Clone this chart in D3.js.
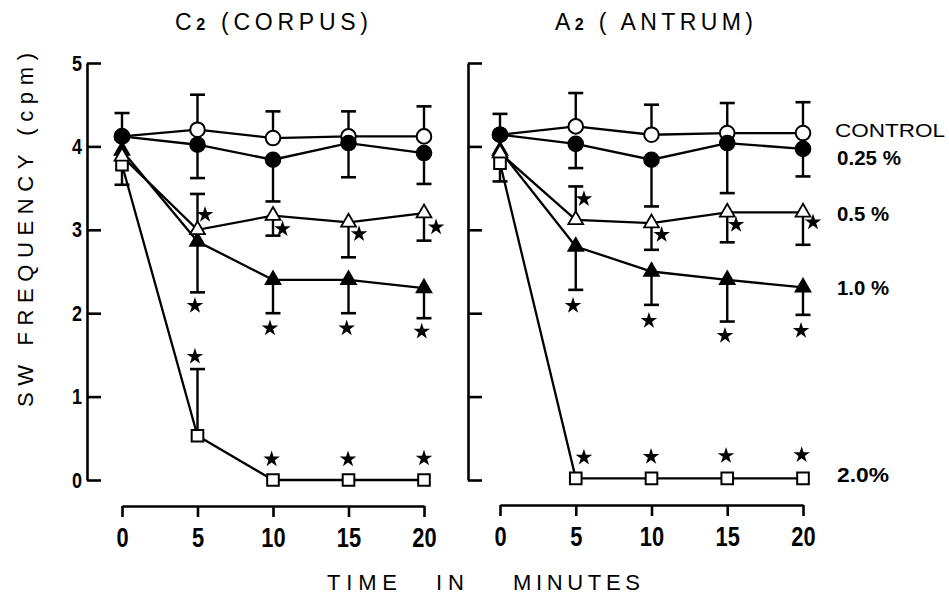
<!DOCTYPE html>
<html><head><meta charset="utf-8">
<script src="https://cdn.jsdelivr.net/npm/d3@7"></script>
<style>
html,body{margin:0;padding:0;background:#fff;}
svg{display:block;}
.num{font-family:"Liberation Sans","DejaVu Sans",Arial,sans-serif;font-weight:bold;}
.lab{font-family:"Liberation Sans","DejaVu Sans",Arial,sans-serif;}
</style></head>
<body>
<svg id="chart" width="949" height="599"></svg>
<script>
// ---------- data ----------
const times = [0, 5, 10, 15, 20];
const yTicks = [0, 1, 2, 3, 4, 5];
const seriesNames = ["CONTROL", "0.25 %", "0.5 %", "1.0 %", "2.0%"];

// C2 (CORPUS): means and error-bar end values
const corpusControl    = [4.12, 4.20, 4.10, 4.12, 4.12];
const corpusControlErr = [4.40, 4.62, 4.42, 4.42, 4.48];
const corpus025        = [4.12, 4.02, 3.84, 4.04, 3.92];
const corpus025Err     = [null, 3.62, 3.34, 3.63, 3.55];
const corpus05         = [3.88, 3.00, 3.17, 3.09, 3.20];
const corpus05Err      = [null, 3.43, 2.93, 2.67, 2.87];
const corpus10         = [3.95, 2.86, 2.40, 2.40, 2.30];
const corpus10Err      = [null, 2.25, 2.00, 2.00, 1.94];
const corpus20         = [3.78, 0.53, 0.00, 0.00, 0.00];
const corpus20Err      = [3.54, 1.33, null, null, null];
// significance stars (time, value)
const corpusStarT = [5.5, 10.63, 15.7, 20.8, 4.83, 9.8, 14.88, 19.85, 4.83, 9.91, 14.97, 20.0];
const corpusStarV = [3.18, 3.01, 2.95, 3.03, 2.09, 1.82, 1.82, 1.78, 1.48, 0.25, 0.25, 0.26];

// A2 (ANTRUM)
const antrumControl    = [4.14, 4.24, 4.14, 4.16, 4.16];
const antrumControlErr = [4.39, 4.64, 4.50, 4.52, 4.53];
const antrum025        = [4.14, 4.03, 3.84, 4.04, 3.97];
const antrum025Err     = [null, 3.74, 3.28, 3.44, 3.64];
const antrum05         = [3.92, 3.12, 3.08, 3.21, 3.21];
const antrum05Err      = [null, 3.52, 2.76, 2.85, 2.82];
const antrum10         = [3.95, 2.80, 2.50, 2.40, 2.31];
const antrum10Err      = [null, 2.28, 2.10, 1.90, 1.98];
const antrum20         = [3.80, 0.02, 0.02, 0.02, 0.02];
const antrum20Err      = [3.58, null, null, null, null];
const antrumStarT = [5.54, 10.67, 15.58, 20.66, 4.82, 9.83, 14.85, 19.87, 5.54, 9.97, 14.92, 19.91];
const antrumStarV = [3.37, 2.94, 3.06, 3.09, 2.09, 1.91, 1.73, 1.79, 0.27, 0.28, 0.29, 0.30];

// ---------- drawing ----------
const svg = d3.select("#chart");
const y = d3.scaleLinear().domain([0, 5]).range([480, 63]);

const markerTypes = ["openCircle", "filledCircle", "openTriangle", "filledTriangle", "openSquare"];

function drawPanel(opt) {
  const x = d3.scaleLinear().domain([0, 20]).range(opt.xRange);
  const g = svg.append("g");

  // y axis
  const ya = d3.axisLeft(y).tickValues(yTicks).tickSizeInner(-14).tickSizeOuter(0).tickPadding(6)
    .tickFormat(opt.yLabels ? d3.format("d") : () => "");
  const yg = g.append("g").attr("transform", `translate(${opt.yAxisX},0)`).call(ya);
  yg.selectAll("path,line").attr("stroke", "#000").attr("stroke-width", 2.6);
  yg.selectAll("text").attr("class", "num").style("font-size", "22px").attr("fill", "#000")
    .attr("transform", "scale(0.82,1)");

  // x axis
  const xa = d3.axisBottom(x).tickValues(times).tickSizeInner(11).tickSizeOuter(0).tickPadding(10)
    .tickFormat(d3.format("d"));
  const xg = g.append("g").attr("transform", `translate(0,${opt.xAxisY})`).call(xa);
  xg.selectAll("path,line").attr("stroke", "#000").attr("stroke-width", 2.6);
  xg.selectAll("text").attr("class", "num").style("font-size", "28px").attr("fill", "#000")
    .attr("transform", "scale(0.78,1)");

  const line = d3.line().x((d, i) => x(times[i])).y(d => y(d));

  // lines
  opt.series.forEach(s => {
    g.append("path").attr("d", line(s.values)).attr("fill", "none")
      .attr("stroke", "#000").attr("stroke-width", 2.3);
  });

  // error bars
  opt.series.forEach(s => {
    s.err.forEach((e, i) => {
      if (e === null) return;
      const cx = x(times[i]);
      g.append("line").attr("x1", cx).attr("x2", cx).attr("y1", y(s.values[i])).attr("y2", y(e))
        .attr("stroke", "#000").attr("stroke-width", 2.4);
      g.append("line").attr("x1", cx - 7.5).attr("x2", cx + 7.5).attr("y1", y(e)).attr("y2", y(e))
        .attr("stroke", "#000").attr("stroke-width", 2.6);
    });
  });

  // markers (draw bottom series first so control/0.25 sit on top at t=0)
  const order = [4, 3, 2, 0, 1];
  order.forEach(k => {
    const s = opt.series[k];
    const type = markerTypes[k];
    s.values.forEach((v, i) => {
      const cx = x(times[i]), cy = y(v);
      if (type === "openCircle" || type === "filledCircle") {
        g.append("circle").attr("cx", cx).attr("cy", cy).attr("r", 7.3)
          .attr("fill", type === "openCircle" ? "#fff" : "#000")
          .attr("stroke", "#000").attr("stroke-width", 2);
      } else if (type === "openTriangle" || type === "filledTriangle") {
        g.append("path").attr("d", d3.symbol().type(d3.symbolTriangle).size(95)())
          .attr("transform", `translate(${cx},${cy})`)
          .attr("fill", type === "openTriangle" ? "#fff" : "#000")
          .attr("stroke", "#000").attr("stroke-width", 1.8);
      } else {
        g.append("path").attr("d", d3.symbol().type(d3.symbolSquare).size(135)())
          .attr("transform", `translate(${cx},${cy})`)
          .attr("fill", "#fff").attr("stroke", "#000").attr("stroke-width", 2);
      }
    });
  });

  // stars
  const star = d3.symbol().type(d3.symbolStar).size(85)();
  opt.starT.forEach((t, i) => {
    g.append("path").attr("d", star)
      .attr("transform", `translate(${x(t)},${y(opt.starV[i])})`)
      .attr("fill", "#000");
  });

  // title
  const title = g.append("text").attr("class", "lab")
    .attr("x", opt.titleX).attr("y", 30).attr("fill", "#000").style("font-size", "23px")
    .attr("textLength", opt.titleLen).attr("lengthAdjust", "spacing");
  title.append("tspan").text(opt.titleLetter);
  title.append("tspan").style("font-size", "16px").style("font-weight", "bold").text("2");
  title.append("tspan").text(opt.titleRest);
}

drawPanel({
  xRange: [122, 424], yAxisX: 87, xAxisY: 506, yLabels: true,
  series: [
    {values: corpusControl, err: corpusControlErr},
    {values: corpus025, err: corpus025Err},
    {values: corpus05, err: corpus05Err},
    {values: corpus10, err: corpus10Err},
    {values: corpus20, err: corpus20Err}
  ],
  starT: corpusStarT, starV: corpusStarV,
  titleX: 175, titleLen: 193, titleLetter: "C", titleRest: " (CORPUS)"
});

drawPanel({
  xRange: [500, 803], yAxisX: 468, xAxisY: 505, yLabels: false,
  series: [
    {values: antrumControl, err: antrumControlErr},
    {values: antrum025, err: antrum025Err},
    {values: antrum05, err: antrum05Err},
    {values: antrum10, err: antrum10Err},
    {values: antrum20, err: antrum20Err}
  ],
  starT: antrumStarT, starV: antrumStarV,
  titleX: 555, titleLen: 198, titleLetter: "A", titleRest: " ( ANTRUM)"
});

// series labels on the right
const labelY = [137, 165, 221, 295, 482];
const labelLen = [110, 64, 52, 52, 52];
seriesNames.forEach((n, i) => {
  svg.append("text").attr("class", i === 0 ? "lab" : "num")
    .attr("x", i === 0 ? 835 : 837).attr("y", labelY[i]).attr("fill", "#000")
    .style("font-size", i === 0 ? "18px" : "21px")
    .attr("textLength", labelLen[i]).attr("lengthAdjust", "spacingAndGlyphs")
    .text(n);
});

// axis titles
svg.append("text").attr("class", "lab").attr("fill", "#000").style("font-size", "22px")
  .attr("transform", "translate(33,230) rotate(-90)").attr("text-anchor", "middle")
  .attr("textLength", 354).attr("lengthAdjust", "spacing")
  .text("SW FREQUENCY (cpm)");

const xTitleWords = ["TIME", "IN", "MINUTES"];
const xTitleStart = [327, 436, 513];
const xTitleLen = [70, 28, 127];
xTitleWords.forEach((w, i) => {
  svg.append("text").attr("class", "lab").attr("fill", "#000").style("font-size", "22px")
    .attr("x", xTitleStart[i]).attr("y", 590)
    .attr("textLength", xTitleLen[i]).attr("lengthAdjust", "spacing").text(w);
});
</script>
</body></html>
